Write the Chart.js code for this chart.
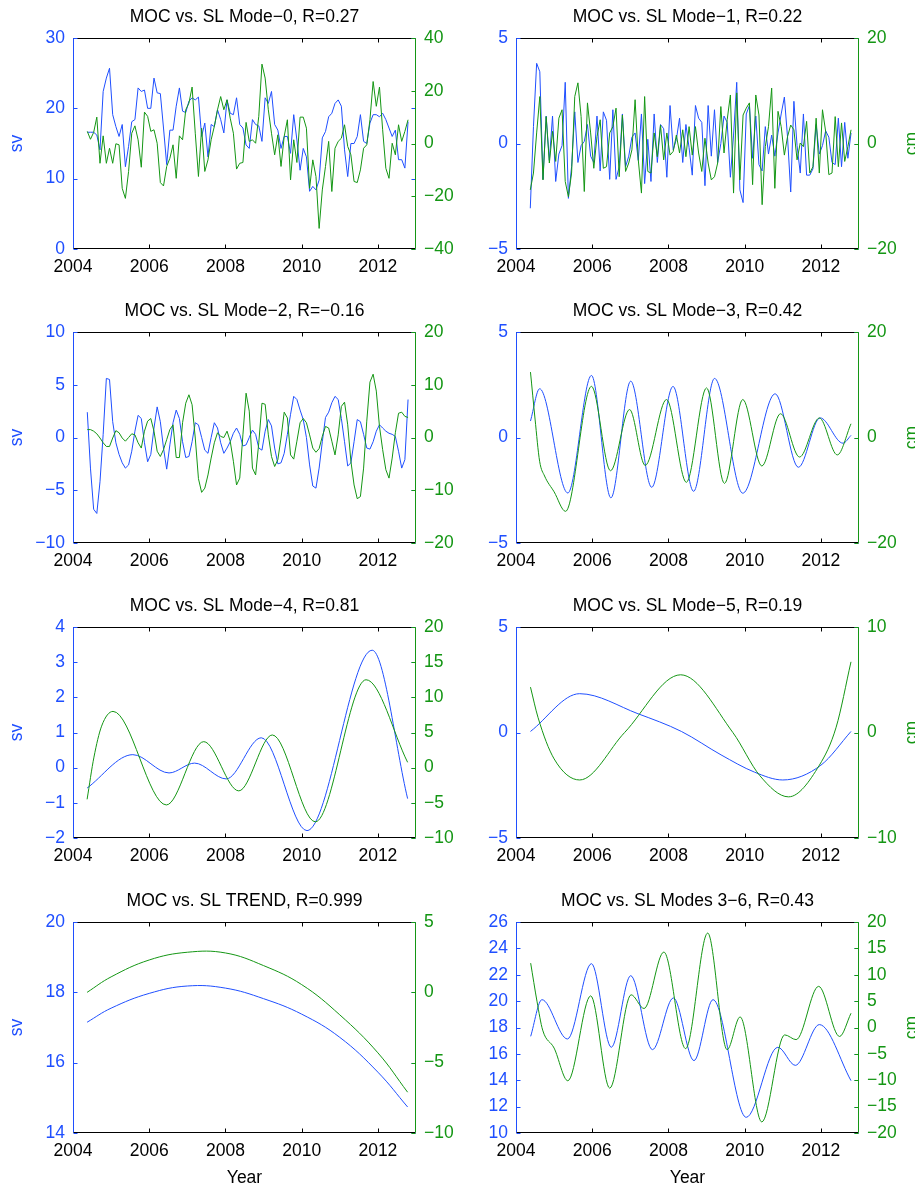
<!DOCTYPE html>
<html>
<head>
<meta charset="utf-8">
<title>MOC vs. SL modes</title>
<script src="https://cdn.jsdelivr.net/npm/chart.js@4.4.1/dist/chart.umd.min.js"></script>
<style>
  html, body { margin: 0; padding: 0; background: #fff; overflow: hidden; }
  #page { position: relative; width: 915px; height: 1189px; overflow: hidden; }
  #page canvas { position: absolute; }
</style>
</head>
<body>
<div id="page"></div>
<script>
// Time axis: monthly values, May 2004 .. Oct 2012
const firstMonth = 2004.375;
const months = Array.from({ length: 102 }, (_, i) => firstMonth + i / 12);
const yearTicks = [2004, 2006, 2008, 2010, 2012];

// Mode-0 (monthly)
const mode0Moc = [
  16.6, 16.6, 16.6, 16.2, 14.1, 22.4, 24.3, 25.7, 19.1, 17.4,
  16.0, 17.7, 11.7, 14.6, 18.1, 18.4, 22.9, 22.4, 22.6, 20.0,
  20.0, 24.3, 22.2, 22.1, 17.2, 12.0, 16.9, 16.9, 20.3, 22.9,
  19.6, 19.4, 21.0, 21.5, 21.2, 21.6, 16.0, 17.9, 13.1, 17.7,
  17.4, 19.8, 18.4, 16.5, 21.2, 19.3, 19.1, 21.5, 17.7, 17.2,
  14.8, 14.3, 18.4, 17.7, 17.5, 15.3, 21.5, 20.7, 22.4, 17.7,
  16.9, 14.3, 16.0, 16.0, 13.6, 19.1, 15.5, 11.2, 14.3, 13.1,
  8.2, 8.9, 8.4, 9.8, 15.8, 16.7, 18.8, 19.3, 20.7, 21.2,
  20.3, 14.1, 10.3, 15.0, 15.0, 16.0, 19.1, 15.3, 15.0, 17.9,
  19.1, 19.1, 18.8, 19.3, 18.4, 17.2, 16.0, 16.9, 12.7, 12.7,
  11.5, 18.1
];
const mode0Sl = [
  4.6, 1.6, 4.2, 10.0, -7.5, 2.9, -7.5, -1.8, -7.5, -0.1,
  -0.5, -17.0, -20.8, -10.6, 3.9, 6.7, 1.4, -9.0, 11.9, 10.3,
  4.6, 5.2, 0.1, -14.8, -16.1, -8.7, -5.6, -0.5, -13.2, 2.9,
  1.4, 12.8, 15.3, 21.4, 3.9, -12.5, 5.8, -10.6, -6.2, 1.4,
  6.5, 12.8, 17.8, 12.8, 16.6, 9.6, 3.9, -9.7, -7.5, -7.2,
  8.0, 0.8, 1.4, 0.1, 10.3, 30.1, 24.8, 12.8, 3.9, -4.3,
  3.3, -8.7, 2.7, 9.0, -13.8, 1.4, -7.2, 10.0, 10.0, 5.8,
  -17.0, -6.2, -12.5, -32.2, -17.6, -8.7, 0.8, -18.2, -1.8, 0.8,
  2.0, 7.1, -1.1, -4.3, -14.4, -14.8, -10.0, -1.8, -0.5, 9.0,
  23.5, 14.1, 21.4, 5.2, -9.4, -13.2, 0.1, -4.3, 7.1, 0.8,
  4.6, 9.0
];
const mode0MocTicks = [0, 10, 20, 30];
const mode0SlTicks = [-40, -20, 0, 20, 40];

// Mode-1 (monthly)
const mode1Moc = [
  -3.07, 0.8, 3.8, 3.4, -1.7, 1.3, -0.8, 1.3, -1.8, -0.5,
  -0.1, 2.9, -2.6, -1.1, 1.5, -0.9, -0.1, 0.1, 0.9, -0.6,
  -0.9, 1.3, -1.3, 1.5, 1.1, -1.7, 1.6, -1.7, -1.1, 1.4,
  -1.1, -0.6, 0.3, 0.5, -0.8, 1.4, -1.9, 0.2, -1.8, 1.4,
  -0.9, 0.9, 0.7, -1.6, 1.8, -0.3, 0.2, 1.2, -0.9, 0.9,
  -0.2, -1.5, 1.8, 1.2, 1.0, -2.0, 1.8, -0.6, 1.6, -0.9,
  0.0, 1.3, 1.0, -1.6, 0.4, 2.9, -2.2, -2.8, 1.4, 1.8,
  -0.7, 1.3, -1.0, -1.3, 0.8, -0.5, 0.4, -0.6, 0.5, 1.4,
  2.2, 0.3, -2.3, 2.0, -0.1, -1.4, 1.4, -1.5, -1.5, -1.2,
  0.9, -0.5, -0.1, 0.6, 0.3, -0.9, -1.0, 1.2, -1.1, 1.0,
  -0.7, 0.5
];
const mode1Sl = [
  -8.8, -5.6, 2.0, 8.9, -6.9, 5.1, -3.7, 2.3, -3.4, 4.8,
  6.4, -7.2, -10.1, -5.6, 8.9, 11.5, 5.1, -9.1, 7.7, 2.0,
  -4.7, 1.3, 4.5, -4.7, -4.4, 2.0, 3.2, 6.7, -6.3, 5.4,
  -5.3, -3.7, -1.2, 8.3, -3.1, -9.4, 8.9, -5.3, -5.6, 2.0,
  -2.5, 3.5, -3.1, 2.0, -2.2, -1.5, 1.6, -1.8, 2.6, -2.5,
  3.2, -2.2, 3.2, -1.8, -5.3, 1.0, -3.7, -6.9, -6.3, -3.7,
  7.0, -1.8, 4.5, 9.2, -9.4, 9.6, -6.9, 5.4, 6.7, 7.7,
  -7.8, 9.2, 5.4, -11.6, -0.6, 3.2, 10.5, -8.5, 6.1, 3.2,
  -2.2, 1.3, 3.5, 2.6, -3.1, 0.1, -0.6, 4.2, -5.6, -4.4,
  4.8, -5.6, 6.4, 2.3, -5.9, -5.6, 5.1, -4.4, 3.9, -3.4,
  -0.6, 2.6
];
const mode1MocTicks = [-5, 0, 5];
const mode1SlTicks = [-20, 0, 20];

// Mode-2 (monthly)
const mode2Moc = [
  2.4, -2.9, -6.8, -7.2, -4.2, 0.3, 5.6, 5.5, 1.5, -0.5,
  -1.6, -2.4, -2.9, -2.6, -1.3, 0.6, 2.1, 1.8, -0.5, -2.3,
  -1.6, 0.9, 2.9, 1.5, -1.0, -3.0, -0.7, 1.4, 2.6, 1.8,
  -0.4, -1.9, -1.8, -0.4, 1.4, 1.2, 0.0, -1.2, -1.5, 0.0,
  1.4, 0.9, -0.5, -1.5, -1.0, -0.4, 0.4, 0.9, 0.3, -0.8,
  -0.7, 0.0, 0.7, 0.3, -1.0, -1.2, 0.6, 1.7, 1.1, -1.0,
  -2.5, -2.4, -1.5, 0.3, 2.2, 3.9, 3.6, 2.6, 1.7, 0.0,
  -2.6, -4.6, -4.8, -2.9, -0.4, 1.9, 2.4, 3.3, 3.9, 3.6,
  1.8, -0.4, -2.7, -2.4, -0.4, 1.7, 1.5, 0.3, -1.0, -1.1,
  -0.4, 0.6, 1.2, 0.9, 0.6, 0.4, 0.3, 0.1, -1.3, -2.9,
  -2.1, 3.6
];
const mode2Sl = [
  1.5, 1.5, 1.2, 0.7, -0.1, -1.0, -1.7, -1.7, -0.1, 1.3,
  0.9, -0.1, -0.7, 0.0, 0.7, 0.5, -1.0, -2.0, 1.2, 3.1,
  3.6, 1.2, -2.6, -3.6, -2.3, -0.4, 1.5, 2.4, -3.8, -3.8,
  2.8, 6.5, 8.1, 6.2, -0.1, -7.8, -10.4, -9.6, -7.1, -3.9,
  -1.0, 0.9, 0.2, 0.0, 1.2, -0.7, -4.5, -9.0, -7.7, 0.5,
  8.4, 5.0, -5.8, -7.1, -1.0, 6.5, 6.3, 0.5, -3.6, -5.5,
  -4.2, -0.1, 4.8, 3.7, -3.3, -4.1, -0.7, 2.8, 3.6, 2.8,
  0.5, -2.0, -2.8, -2.1, 0.2, 2.1, 1.8, -0.7, -3.3, 0.5,
  5.9, 6.7, 2.4, -4.5, -9.0, -11.6, -11.2, -5.8, 3.1, 10.5,
  12.0, 8.8, 2.1, -2.3, -6.1, -7.7, -3.9, 0.9, 4.6, 4.8,
  4.0, 3.8
];
const mode2MocTicks = [-10, -5, 0, 5, 10];
const mode2SlTicks = [-20, -10, 0, 10, 20];

// Mode-3 (smooth, read at turning points)
const mode3MocYears = [2004.38, 2004.62, 2005.36, 2005.98, 2006.49, 2007.01, 2007.56, 2008.12,
  2008.66, 2009.21, 2009.95, 2010.80, 2011.41, 2011.98, 2012.58, 2012.79];
const mode3Moc = [0.78, 2.31, -2.63, 2.94, -2.86, 2.67, -2.36, 2.42, -2.55, 2.80, -2.64, 2.07, -1.41, 0.93, -0.27, 0.10];
const mode3SlYears = [2004.38, 2004.5, 2004.62, 2004.75, 2005.0, 2005.30, 2005.98, 2006.48, 2006.98, 2007.39,
  2007.95, 2008.47, 2009.00, 2009.47, 2009.95, 2010.45, 2010.94, 2011.44, 2011.96, 2012.43, 2012.79];
const mode3Sl = [12.4, 3.5, -4.5, -7.3, -10.3, -14.0, 9.7, -6.3, 5.3, -5.3, 7.2, -8.5, 9.4, -8.7, 7.2, -5.4, 4.5, -3.7, 3.7, -3.3, 2.6];
const mode3MocTicks = [-5, 0, 5];
const mode3SlTicks = [-20, 0, 20];

// Mode-4
const mode4MocYears = [2004.37, 2005.57, 2006.52, 2007.19, 2008.02, 2008.94, 2010.14, 2011.85, 2012.78];
const mode4Moc = [-0.58, 0.37, -0.15, 0.13, -0.32, 0.85, -1.79, 3.34, -0.88];
const mode4SlYears = [2004.37, 2004.55, 2004.75, 2005.05, 2006.45, 2007.43, 2008.35, 2009.23, 2010.36, 2011.69, 2012.78];
const mode4Sl = [-4.5, 1.5, 5.9, 8.0, -5.3, 3.7, -3.3, 4.65, -7.7, 12.5, 0.76];
const mode4MocTicks = [-2, -1, 0, 1, 2, 3, 4];
const mode4SlTicks = [-10, -5, 0, 5, 10, 15, 20];

// Mode-5
const mode5MocYears = [2004.38, 2005.67, 2007.2, 2008.34, 2009.38, 2010.26, 2011.0, 2012.0, 2012.79];
const mode5Moc = [0.05, 1.84, 0.89, 0.05, -1.06, -1.88, -2.25, -1.55, 0.05];
const mode5SlYears = [2004.38, 2004.58, 2005.0, 2005.67, 2006.85, 2008.32, 2009.69, 2010.4, 2011.15, 2011.96, 2012.4, 2012.79];
const mode5Sl = [4.3, 1.4, -2.5, -4.5, 0.0, 5.47, 0.0, -4.1, -6.1, -3.1, 0.5, 6.7];
const mode5MocTicks = [-5, 0, 5];
const mode5SlTicks = [-10, 0, 10];

// Trend
const trendYears = [2004.37, 2005, 2006, 2007, 2008, 2009, 2010, 2011, 2012, 2012.78];
const trendMoc = [17.15, 17.55, 17.97, 18.18, 18.12, 17.82, 17.38, 16.72, 15.73, 14.74];
const trendSl = [0.0, 1.1, 2.3, 2.85, 2.8, 1.9, 0.55, -1.6, -4.3, -7.1];
const trendMocTicks = [14, 16, 18, 20];
const trendSlTicks = [-10, -5, 0, 5];

// Modes 3-6
const modes36MocYears = [2004.385, 2004.68, 2005.35, 2005.98, 2006.5, 2007.01, 2007.58, 2008.13,
  2008.67, 2009.17, 2010.04, 2010.87, 2011.33, 2011.96, 2012.79];
const modes36Moc = [17.33, 20.11, 17.13, 22.84, 16.5, 21.93, 16.32, 20.24, 15.49, 20.11, 11.19, 16.5, 15.13, 18.22, 13.97];
const modes36SlYears = [2004.385, 2004.55, 2004.7, 2005.0, 2005.36, 2005.96, 2006.46, 2007.02, 2007.36, 2007.88,
  2008.45, 2009.03, 2009.54, 2009.88, 2010.45, 2011.05, 2011.35, 2011.94, 2012.49, 2012.79];
const modes36Sl = [12.2, 5.0, -0.5, -3.9, -10.1, 6.0, -11.5, 6.2, 3.6, 14.3, -4.0, 17.9, -4.2, 2.0, -17.9, -1.4, -2.3, 7.8, -1.7, 2.7];
const modes36MocTicks = [10, 12, 14, 16, 18, 20, 22, 24, 26];
const modes36SlTicks = [-20, -15, -10, -5, 0, 5, 10, 15, 20];

// ---------------- STYLE / LAYOUT ----------------
const BLUE = "#1f4fff";
const GREEN = "#149614";
const FONT_FAMILY = '"Liberation Sans", Arial, Helvetica, sans-serif';
const FONT_SIZE = 17.5;
const FONT = FONT_SIZE + "px " + FONT_FAMILY;

const PLOT_W = 343, PLOT_H = 211, TOP = 33, TICK = 4;
const colX = [73, 516];
const rowY = [38, 332, 627, 922];
const sidePad = [{ left: 73, right: 50 }, { left: 70, right: 56 }];

Chart.defaults.font.family = FONT_FAMILY;
Chart.defaults.font.size = FONT_SIZE;

const pts = (xs, ys) => ys.map((v, i) => ({ x: xs[i], y: v }));
const fmt = v => (v < 0 ? "\u2212" + Math.abs(v) : String(v));
const fixTicks = list => scale => { scale.ticks = list.map(v => ({ value: v })); };

// MATLAB-like box: inward ticks, coloured y axes, title and axis labels
const axisFrame = {
  id: "axisFrame",
  afterDraw(chart, args, o) {
    const { ctx, chartArea: a, scales } = chart;
    const L = Math.round(a.left) + 0.5, R = Math.round(a.right) - 0.5;
    const T = Math.round(a.top) + 0.5, B = Math.round(a.bottom) - 0.5;
    const seg = (x1, y1, x2, y2, c) => {
      ctx.strokeStyle = c;
      ctx.beginPath(); ctx.moveTo(x1, y1); ctx.lineTo(x2, y2); ctx.stroke();
    };
    ctx.save();
    ctx.lineWidth = 1;
    seg(L, T, R, T, "#000");
    seg(L, B, R, B, "#000");
    scales.x.ticks.forEach(t => {
      const px = Math.round(scales.x.getPixelForValue(t.value)) + 0.5;
      seg(px, B, px, B - TICK, "#000");
      seg(px, T, px, T + TICK, "#000");
    });
    scales.y.ticks.forEach(t => {
      const py = Math.round(scales.y.getPixelForValue(t.value)) + 0.5;
      seg(L, py, L + TICK, py, BLUE);
      seg(R, py, R - TICK, py, BLUE);
    });
    scales.y2.ticks.forEach(t => {
      const py = Math.round(scales.y2.getPixelForValue(t.value)) + 0.5;
      seg(R, py, R - TICK, py, GREEN);
    });
    seg(L, T, L, B, BLUE);
    seg(R, T, R, B, GREEN);

    ctx.font = FONT;
    ctx.textAlign = "center";
    ctx.textBaseline = "middle";
    ctx.fillStyle = "#000";
    ctx.fillText(o.title, (a.left + a.right) / 2, a.top - 20.5);
    if (o.xLabel) ctx.fillText(o.xLabel, (a.left + a.right) / 2, a.bottom + 45);

    ctx.textBaseline = "alphabetic";
    const midY = (a.top + a.bottom) / 2;
    if (o.leftLabel) {
      ctx.save();
      ctx.translate(a.left - 51, midY);
      ctx.rotate(-Math.PI / 2);
      ctx.fillStyle = BLUE;
      ctx.fillText(o.leftLabel, 0, 0);
      ctx.restore();
    }
    if (o.rightLabel) {
      ctx.save();
      ctx.translate(a.right + 57.5, midY);
      ctx.rotate(-Math.PI / 2);
      ctx.fillStyle = GREEN;
      ctx.fillText(o.rightLabel, 0, 0);
      ctx.restore();
    }
    ctx.restore();
  }
};

// curve: "line" = straight segments, "mono" = monotone cubic through turning points, "spline" = tension spline
const panels = [
  { col: 0, row: 0, title: "MOC vs. SL Mode\u22120, R=0.27", moc: pts(months, mode0Moc), sl: pts(months, mode0Sl), mocTicks: mode0MocTicks, slTicks: mode0SlTicks, curve: "line" },
  { col: 1, row: 0, title: "MOC vs. SL Mode\u22121, R=0.22", moc: pts(months, mode1Moc), sl: pts(months, mode1Sl), mocTicks: mode1MocTicks, slTicks: mode1SlTicks, curve: "line" },
  { col: 0, row: 1, title: "MOC vs. SL Mode\u22122, R=\u22120.16", moc: pts(months, mode2Moc), sl: pts(months, mode2Sl), mocTicks: mode2MocTicks, slTicks: mode2SlTicks, curve: "line" },
  { col: 1, row: 1, title: "MOC vs. SL Mode\u22123, R=0.42", moc: pts(mode3MocYears, mode3Moc), sl: pts(mode3SlYears, mode3Sl), mocTicks: mode3MocTicks, slTicks: mode3SlTicks, curve: "mono" },
  { col: 0, row: 2, title: "MOC vs. SL Mode\u22124, R=0.81", moc: pts(mode4MocYears, mode4Moc), sl: pts(mode4SlYears, mode4Sl), mocTicks: mode4MocTicks, slTicks: mode4SlTicks, curve: "mono" },
  { col: 1, row: 2, title: "MOC vs. SL Mode\u22125, R=0.19", moc: pts(mode5MocYears, mode5Moc), sl: pts(mode5SlYears, mode5Sl), mocTicks: mode5MocTicks, slTicks: mode5SlTicks, curve: "mono" },
  { col: 0, row: 3, title: "MOC vs. SL TREND, R=0.999", moc: pts(trendYears, trendMoc), sl: pts(trendYears, trendSl), mocTicks: trendMocTicks, slTicks: trendSlTicks, curve: "spline" },
  { col: 1, row: 3, title: "MOC vs. SL Modes 3\u22126, R=0.43", moc: pts(modes36MocYears, modes36Moc), sl: pts(modes36SlYears, modes36Sl), mocTicks: modes36MocTicks, slTicks: modes36SlTicks, curve: "mono" }
];

// ---------------- BUILD ----------------
const page = document.getElementById("page");

panels.forEach(p => {
  const side = sidePad[p.col];
  const bottom = p.row === 3 ? 56 : 40;
  const canvas = document.createElement("canvas");
  canvas.width = side.left + PLOT_W + side.right;
  canvas.height = TOP + PLOT_H + bottom;
  page.appendChild(canvas);

  const noGrid = { display: false, drawTicks: false };
  const chart = new Chart(canvas, {
    type: "line",
    data: {
      datasets: [
        { data: p.sl, yAxisID: "y2", borderColor: GREEN, order: 0 },
        { data: p.moc, yAxisID: "y", borderColor: BLUE, order: 1 }
      ]
    },
    options: {
      responsive: false,
      animation: false,
      devicePixelRatio: 1,
      events: [],
      layout: { padding: { top: TOP } },
      elements: {
        point: { radius: 0 },
        line: {
          borderWidth: 1,
          fill: false,
          tension: p.curve === "spline" ? 0.4 : 0,
          cubicInterpolationMode: p.curve === "mono" ? "monotone" : "default"
        }
      },
      plugins: {
        legend: { display: false },
        tooltip: { enabled: false },
        axisFrame: {
          title: p.title,
          leftLabel: p.col === 0 ? "sv" : "",
          rightLabel: p.col === 1 ? "cm" : "",
          xLabel: p.row === 3 ? "Year" : ""
        }
      },
      scales: {
        x: {
          type: "linear", min: 2004, max: 2013,
          grid: noGrid, border: { display: false },
          afterBuildTicks: fixTicks(yearTicks),
          afterFit: s => { s.height = bottom; },
          ticks: { color: "#000", padding: 7.5, autoSkip: false, maxRotation: 0, callback: v => String(v) }
        },
        y: {
          position: "left", min: p.mocTicks[0], max: p.mocTicks[p.mocTicks.length - 1],
          grid: noGrid, border: { display: false },
          afterBuildTicks: fixTicks(p.mocTicks),
          afterFit: s => { s.width = side.left; },
          ticks: { color: BLUE, padding: 8, autoSkip: false, callback: fmt }
        },
        y2: {
          position: "right", min: p.slTicks[0], max: p.slTicks[p.slTicks.length - 1],
          grid: noGrid, border: { display: false },
          afterBuildTicks: fixTicks(p.slTicks),
          afterFit: s => { s.width = side.right; },
          ticks: { color: GREEN, padding: 8, autoSkip: false, callback: fmt }
        }
      }
    },
    plugins: [axisFrame]
  });

  canvas.style.left = (colX[p.col] - chart.chartArea.left) + "px";
  canvas.style.top = (rowY[p.row] - chart.chartArea.top) + "px";
});
</script>
</body>
</html>
